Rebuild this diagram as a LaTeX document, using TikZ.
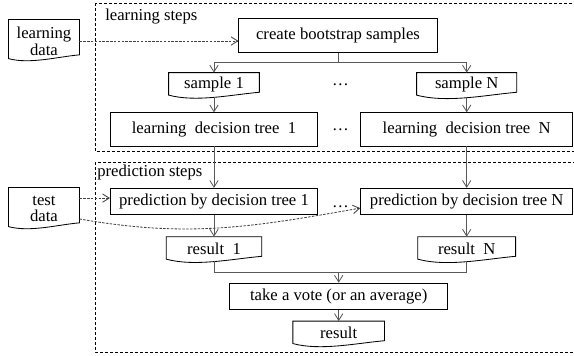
\documentclass[tikz,border=0pt]{standalone}
\usepackage{fontspec}
\setmainfont{Liberation Serif}
\usetikzlibrary{arrows.meta}
\tikzstyle{procBox} = [shape=rectangle, draw=black, text=black, line width=0.5pt,
	align=center, fill=white]
\tikzstyle{docBox} = [shape=rectangle, text=black, align=center, inner sep=1pt]
\tikzstyle{ProcBox} = [procBox, minimum width=4.37cm, minimum height=0.53cm]
\tikzstyle{TallBox} = [procBox, minimum width=4.37cm, minimum height=0.70cm]
\tikzstyle{DocBox} = [docBox, minimum width=2cm, minimum height=0.5cm]
\tikzstyle{DataBox} = [docBox, minimum width=1.48cm, minimum height=0.89cm]
\tikzstyle{docLine} = [draw=black, line width=0.5pt]
\tikzstyle{stepFrame} = [draw=black, line width=0.5pt, dash pattern=on 1.8pt off 1.2pt]
\tikzstyle{flowLine} = [draw=black!65, line width=0.5pt]
\tikzstyle{flowArrow} = [flowLine, -{Straight Barb[length=4pt,width=5pt]}]
\tikzstyle{dataArrow} = [draw=black!75, line width=0.5pt, dash pattern=on 1.5pt off 0.8pt,
	-{Straight Barb[length=4pt,width=5pt]}]

\begin{document}
\begin{tikzpicture}[node distance=1cm]
  \useasboundingbox (0,0) rectangle (12.106,-7.508);

  % step frames
  \draw[stepFrame] (2.004,-0.063) rectangle (12.4,-3.185);
  \draw[stepFrame] (2.004,-3.417) rectangle (12.4,-7.424);
  \node (LSTEP) [anchor=base west, inner sep=0pt] at (2.214,-0.422) {learning steps};
  \node (PSTEP) [anchor=base west, inner sep=0pt] at (2.046,-3.733) {prediction steps};

  % learning
  \node (LRN) [DataBox] at (0.928,-0.865) {learning\\[-2pt]data};
  \node (CBS) [procBox, minimum width=4.18cm, minimum height=0.70cm] at (7.128,-0.749) {create bootstrap samples};
  \node (SMP1) [DocBox, minimum width=1.9cm, below of=CBS, xshift=-2.615cm, yshift=-0.04cm] {sample 1};
  \node (SMPN) [DocBox, minimum width=2.1cm, right of=SMP1, xshift=4.33cm] {sample N};
  \node (TREE1) [TallBox, below of=SMP1, yshift=0.06cm] {learning~ decision tree~ 1};
  \node (TREEN) [TallBox, minimum width=4.47cm, right of=TREE1, xshift=4.33cm] {learning~ decision tree~ N};
  \node (DOTS1) [right of=SMP1, xshift=1.665cm] {\dots};
  \node (DOTS2) [right of=TREE1, xshift=1.665cm] {\dots};

  % prediction
  \node (TST) [DataBox] at (0.928,-4.408) {test\\[-2pt]data};
  \node (PRD1) [ProcBox, below of=TREE1, yshift=-0.52cm] {prediction by decision tree 1};
  \node (PRDN) [ProcBox, minimum width=4.47cm, right of=PRD1, xshift=4.33cm] {prediction by decision tree N};
  \node (DOTS3) [right of=PRD1, xshift=1.665cm, yshift=-0.11cm] {\dots};
  \node (RES1) [DocBox, below of=PRD1] {result~ 1};
  \node (RESN) [DocBox, minimum width=2.05cm, right of=RES1, xshift=4.33cm] {result~ N};
  \node (VOTE) [ProcBox, minimum width=4.6cm, below of=RES1, xshift=2.63cm] {take a vote (or an average)};
  \node (RES) [DocBox, minimum width=1.92cm, below of=VOTE, yshift=0.22cm] {result};

  % document outlines with wavy bottom
  \foreach \d/\lft/\rgt in {LRN/0.08/0.16, TST/0.08/0.16, SMP1/0.04/0.1, SMPN/0.04/0.1,
                            RES1/0.04/0.1, RESN/0.04/0.1, RES/0.04/0.1}
    \draw[docLine] ([yshift=\lft cm]\d.south west) -- (\d.north west) -- (\d.north east)
      -- ([yshift=\rgt cm]\d.south east) to[out=185, in=-15, looseness=0.8]
      ([yshift=\lft cm]\d.south west) -- cycle;

  % connectors
  \coordinate (CBSsplit) at ([yshift=-0.21cm]CBS.south);
  \draw[flowLine] (CBS.south) -- (CBSsplit);
  \draw[flowArrow] (CBSsplit) -| (SMP1.north);
  \draw[flowArrow] (CBSsplit) -| (SMPN.north);
  \draw[flowArrow] (SMP1.south) -- (TREE1.north);
  \draw[flowArrow] (SMPN.south) -- (TREEN.north);
  \draw[flowArrow] (TREE1.south) -- (PRD1.north);
  \draw[flowArrow] (TREEN.south) -- (PRDN.north);
  \draw[flowArrow] (PRD1.south) -- (RES1.north);
  \draw[flowArrow] (PRDN.south) -- (RESN.north);
  \coordinate (RESjoin) at ([yshift=-0.23cm]RES1.south);
  \draw[flowLine] (RES1.south) -- (RESjoin) -| (RESN.south);
  \draw[flowArrow] (RESjoin -| VOTE.north) -- (VOTE.north);
  \draw[flowArrow] (VOTE.south) -- (RES.north);

  % data inputs
  \draw[dataArrow] (LRN.east) -- (LRN.east -| CBS.west);
  \coordinate (TSTtop) at ([yshift=0.23cm]TST.east);
  \coordinate (TSTlow) at ([yshift=-0.21cm]TST.east);
  \draw[dataArrow] (TSTtop) -- (TSTtop -| PRD1.west);
  \draw[dataArrow] (TSTlow) to[out=-10, in=190] ([yshift=-0.14cm]PRDN.west);
\end{tikzpicture}
\end{document}
